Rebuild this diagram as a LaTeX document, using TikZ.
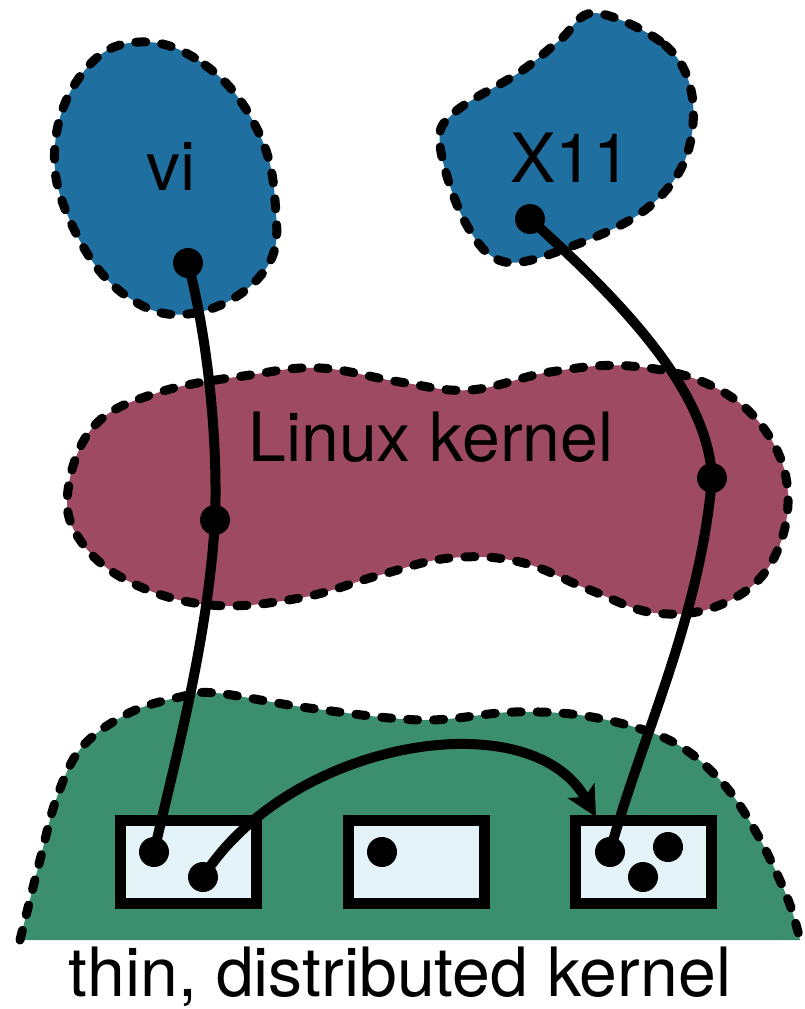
\documentclass[tikz,border=0pt]{standalone}
\usepackage{fontspec}
\setmainfont{TeX Gyre Heros}
\usetikzlibrary{arrows.meta}
\definecolor{blobblue}{RGB}{31,111,160}
\definecolor{blobred}{RGB}{158,74,98}
\definecolor{blobgreen}{RGB}{59,143,110}
\definecolor{boxfill}{RGB}{228,243,248}
\tikzset{
  blob/.style={draw=black, line width=9pt, dash pattern=on 10pt off 16pt, line cap=round, line join=round},
  membox/.style={draw=black, fill=boxfill, line width=11pt, rectangle, inner sep=0pt, minimum width=136pt, minimum height=83pt},
  dot/.style={circle, fill=black, inner sep=0pt, minimum width=29pt, minimum height=30pt},
  conn/.style={line width=10pt, draw=black},
  lbl/.style={font=\fontsize{68}{80}\selectfont, inner sep=0pt}
}
\begin{document}
\begin{tikzpicture}[x=1pt,y=-1pt]
\useasboundingbox (0,0) rectangle (805,1009);
% green blob
\fill[blobgreen] plot[smooth, tension=0.6] coordinates {(20,940) (40,860) (57,797) (82,747) (129,713) (180,697) (216,693) (309,708) (422,720) (514,712) (592,717) (669,740) (720,780) (756,832) (787,897) (800,940)} -- cycle;
\draw[blob] plot[smooth, tension=0.6] coordinates {(20,940) (40,860) (57,797) (82,747) (129,713) (180,697) (216,693) (309,708) (422,720) (514,712) (592,717) (669,740) (720,780) (756,832) (787,897) (800,940)};
% linux kernel blob
\draw[blob, fill=blobred] plot[smooth cycle, tension=0.65] coordinates {(68,490) (95,425) (160,392) (250,375) (320,368) (400,382) (470,390) (550,372) (630,366) (710,385) (765,430) (788,495) (770,565) (720,605) (655,613) (590,590) (520,562) (450,558) (380,575) (300,598) (210,605) (130,582) (80,540)};
% vi blob
\draw[blob, fill=blobblue] plot[smooth cycle, tension=0.7] coordinates {(140,42) (205,65) (255,125) (275,200) (265,270) (195,313) (125,295) (72,225) (55,145) (85,70)};
% X11 blob
\draw[blob, fill=blobblue] plot[smooth cycle, tension=0.6] coordinates {(595,13) (665,45) (692,95) (685,160) (645,210) (575,245) (505,262) (465,222) (440,145) (455,112) (520,72) (560,40)};
% labels
\node[lbl] (vilbl) at (171,166) {vi};
\node[lbl] (xlbl) at (571,158) {X11};
\node[lbl] (lklbl) at (431,437) {Linux kernel};
\node[lbl, anchor=base] (tklbl) at (400,996) {thin, distributed kernel};
% boxes
\node[membox] (box1) at (188.5,862) {};
\node[membox] (box2) at (416.5,862) {};
\node[membox] (box3) at (643.5,862) {};
% dots
\node[dot] (vid) at (188,263) {};
\node[dot] (xd) at (530,219) {};
\node[dot] (vik) at (215,520) {};
\node[dot] (xk) at (712,478) {};
\node[dot] (b1a) at (154,852) {};
\node[dot] (b1b) at (203,877) {};
\node[dot] (b2a) at (382,852) {};
\node[dot] (b3a) at (610,852) {};
\node[dot] (b3b) at (668,847) {};
\node[dot] (b3c) at (643,877) {};
\coordinate (arrend) at (596,817);
% connectors
\draw[conn] (vid.center) .. controls (208,340) and (218,440) .. (vik.center) .. controls (208,640) and (175,760) .. (b1a.center);
\draw[conn] (xd.center) .. controls (620,300) and (708,390) .. (xk.center) .. controls (700,620) and (640,740) .. (b3a.center);
\draw[conn, -{Stealth[length=30pt, width=30pt, inset=7pt]}] (b1b.center) .. controls (290,740) and (530,700) .. (arrend);
\end{tikzpicture}
\end{document}
